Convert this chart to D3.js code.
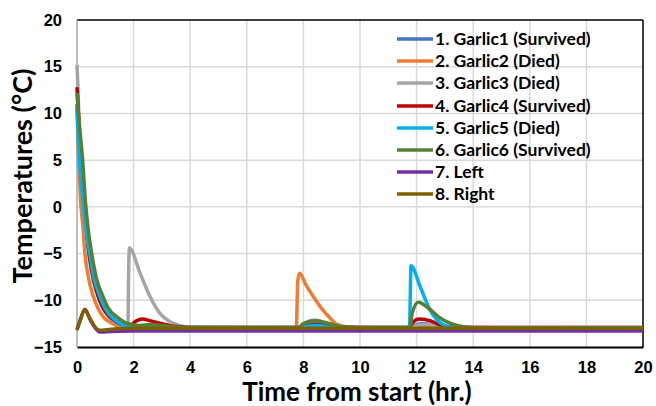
<!DOCTYPE html>
<html>
<head>
<meta charset="utf-8">
<script src="https://cdn.jsdelivr.net/npm/d3@7"></script>
<style>
  body { margin: 0; background: #fff; }
  svg { display: block; }
</style>
</head>
<body>
<svg id="chart" width="656" height="406"></svg>
<script>
// series data: [time (hr), temperature (C)]
var garlic1 = [[0,11],[0.1,6],[0.2,2],[0.3,-1.5],[0.4,-4],[0.5,-6],[0.6,-7.8],[0.8,-9.8],[1.0,-11],[1.3,-12],[1.6,-12.6],[2.0,-12.8],[2.5,-12.7],[3,-12.8],[4,-12.9],[7.8,-12.9],[8.0,-12.7],[8.4,-12.5],[8.8,-12.7],[9.5,-12.9],[11.8,-12.9],[11.9,-12.7],[12.2,-12.5],[12.6,-12.6],[13.2,-12.9],[20,-13.0]]
var garlic2 = [[0,11],[0.05,6],[0.12,1],[0.22,-2.5],[0.28,-5],[0.4,-7.5],[0.58,-9.6],[0.75,-10.9],[0.92,-11.75],[1.2,-12.4],[1.5,-12.8],[2,-12.9],[7.75,-12.9],[7.8,-8],[7.86,-7.1],[8.1,-8.4],[8.35,-9.6],[8.65,-10.9],[8.94,-11.9],[9.2,-12.6],[9.6,-12.85],[10.5,-12.9],[20,-12.9]]
var garlic3 = [[0,15.2],[0.03,13],[0.1,7],[0.2,2],[0.3,-2],[0.4,-4.8],[0.5,-6.8],[0.7,-9.2],[0.9,-10.8],[1.2,-12],[1.5,-12.6],[1.8,-12.8],[1.82,-8],[1.85,-4.4],[2.23,-7.1],[2.58,-9.6],[2.93,-11.4],[3.29,-12.3],[3.6,-12.7],[4,-12.9],[7.9,-13],[8.1,-12.4],[8.4,-12.1],[8.8,-12.4],[9.3,-12.8],[10,-12.95],[11.8,-13],[12.0,-12.7],[12.4,-12.6],[12.9,-12.8],[13.5,-13],[20,-13]]
var garlic4 = [[0,12.8],[0.05,10],[0.15,5],[0.25,0.5],[0.35,-3],[0.45,-5.5],[0.6,-8],[0.8,-10],[1.0,-11.2],[1.3,-12.1],[1.6,-12.6],[1.9,-12.6],[2.1,-12.2],[2.3,-12.0],[2.6,-12.2],[3.0,-12.5],[3.5,-12.8],[4.2,-12.9],[7.9,-12.9],[8.2,-12.7],[8.6,-12.6],[9.2,-12.8],[10,-12.9],[11.73,-12.9],[11.85,-12.4],[12.1,-12.0],[12.5,-12.2],[12.8,-12.6],[13.3,-12.85],[14,-12.9],[20,-12.9]]
var garlic5 = [[0,10.5],[0.05,7],[0.1,4.5],[0.2,1],[0.3,-2],[0.45,-5],[0.6,-7.6],[0.81,-9.6],[1.0,-10.9],[1.3,-12],[1.6,-12.6],[2.0,-12.85],[2.5,-12.9],[3.5,-12.9],[7.9,-12.9],[8.1,-12.8],[8.5,-12.7],[9,-12.9],[11.75,-12.9],[11.78,-9],[11.8,-6.3],[12.12,-8.5],[12.47,-11],[12.83,-12.4],[13.1,-12.8],[13.5,-12.95],[20,-12.95]]
var garlic6 = [[0,12.2],[0.05,10],[0.2,5],[0.3,0.5],[0.4,-2.5],[0.52,-5],[0.7,-7.8],[0.92,-9.6],[1.1,-10.8],[1.4,-11.75],[1.8,-12.5],[2.2,-12.7],[2.6,-12.6],[3.0,-12.7],[3.6,-12.9],[7.8,-12.95],[8.0,-12.5],[8.4,-12.2],[8.8,-12.4],[9.3,-12.8],[10,-12.95],[11.76,-12.95],[11.85,-11.3],[12.06,-10.2],[12.4,-10.8],[12.83,-11.9],[13.5,-12.75],[14,-12.95],[20,-13]]
var left = [[0,-13.1],[0.1,-12.2],[0.28,-11.0],[0.45,-12.0],[0.65,-13.0],[0.8,-13.4],[1.2,-13.35],[2,-13.3],[20,-13.3]]
var right = [[0,-13.2],[0.1,-12.3],[0.28,-10.95],[0.45,-11.9],[0.65,-12.9],[0.8,-13.2],[1.2,-13.1],[2,-13.0],[20,-13.0]]

var seriesNames = ['1. Garlic1 (Survived)', '2. Garlic2 (Died)', '3. Garlic3 (Died)', '4. Garlic4 (Survived)',
                   '5. Garlic5 (Died)', '6. Garlic6 (Survived)', '7. Left', '8. Right']
var seriesColors = ['#4472C4', '#ED7D31', '#A5A5A5', '#C00000', '#00B0F0', '#548235', '#7030A0', '#7F6000']
var seriesData = [garlic1, garlic2, garlic3, garlic4, garlic5, garlic6, left, right]

var xTicks = [0, 2, 4, 6, 8, 10, 12, 14, 16, 18, 20]
var yTicks = [-15, -10, -5, 0, 5, 10, 15, 20]

var svg = d3.select('#chart')
var margin = {left: 77, right: 13, top: 20, bottom: 59}
var W = 656, H = 406
var x = d3.scaleLinear().domain([0, 20]).range([margin.left, W - margin.right])
var y = d3.scaleLinear().domain([-15, 20]).range([H - margin.bottom, margin.top])

// grid
svg.append('g').selectAll('line.gx').data(xTicks.slice(1, -1)).enter().append('line')
    .attr('x1', d => x(d)).attr('x2', d => x(d))
    .attr('y1', y(20)).attr('y2', y(-15))
    .attr('stroke', '#d9d9d9').attr('stroke-width', 1.5)
svg.append('g').selectAll('line.gy').data(yTicks.slice(1, -1)).enter().append('line')
    .attr('x1', x(0)).attr('x2', x(20))
    .attr('y1', d => y(d)).attr('y2', d => y(d))
    .attr('stroke', '#d9d9d9').attr('stroke-width', 1.5)

// frame
svg.append('line').attr('x1', x(0)).attr('x2', x(20)).attr('y1', y(20)).attr('y2', y(20))
    .attr('stroke', '#000').attr('stroke-width', 1.5)
svg.append('line').attr('x1', x(20)).attr('x2', x(20)).attr('y1', y(20)).attr('y2', y(-15))
    .attr('stroke', '#000').attr('stroke-width', 1.5)
svg.append('line').attr('x1', x(0)).attr('x2', x(0)).attr('y1', y(20)).attr('y2', y(-15))
    .attr('stroke', '#a6a6a6').attr('stroke-width', 1.5)

// axes
var xAxis = svg.append('g').attr('transform', 'translate(0,' + y(-15) + ')')
    .call(d3.axisBottom(x).tickValues(xTicks).tickSize(0).tickPadding(14))
var yAxis = svg.append('g').attr('transform', 'translate(' + x(0) + ',0)')
    .call(d3.axisLeft(y).tickValues(yTicks).tickSize(0).tickPadding(15))
xAxis.select('.domain').attr('stroke', '#000').attr('stroke-width', 2)
yAxis.select('.domain').remove()
svg.selectAll('.tick text').attr('font-family', 'Liberation Sans, Arial, sans-serif')
    .attr('font-size', 16.5).attr('font-weight', 'bold').attr('fill', '#000')

// lines
var line = d3.line().x(d => x(d[0])).y(d => y(d[1])).curve(d3.curveMonotoneX)
seriesData.forEach(function (s, i) {
    svg.append('path').datum(s)
        .attr('d', line)
        .attr('fill', 'none')
        .attr('stroke', seriesColors[i])
        .attr('stroke-width', 3.5)
        .attr('stroke-linejoin', 'round')
})

// legend
var legendY = [39, 61, 83, 106, 128, 150, 172, 194]
var legend = svg.append('g')
seriesNames.forEach(function (n, i) {
    legend.append('line').attr('x1', 397).attr('x2', 433)
        .attr('y1', legendY[i]).attr('y2', legendY[i])
        .attr('stroke', seriesColors[i]).attr('stroke-width', 3.5)
    legend.append('text').attr('x', 435).attr('y', legendY[i]).attr('dy', '0.35em')
        .attr('font-family', 'Lato, sans-serif').attr('font-weight', 'bold').attr('font-size', 17.5)
        .text(n)
})

// titles
svg.append('text').attr('x', 357).attr('y', 401).attr('text-anchor', 'middle')
    .attr('font-family', 'Lato, sans-serif').attr('font-weight', 'bold').attr('font-size', 26)
    .text('Time from start (hr.)')
svg.append('text').attr('transform', 'translate(32,176) rotate(-90)').attr('text-anchor', 'middle')
    .attr('font-family', 'Lato, sans-serif').attr('font-weight', 'bold').attr('font-size', 27)
    .text('Temperatures (°C)')
</script>
</body>
</html>
